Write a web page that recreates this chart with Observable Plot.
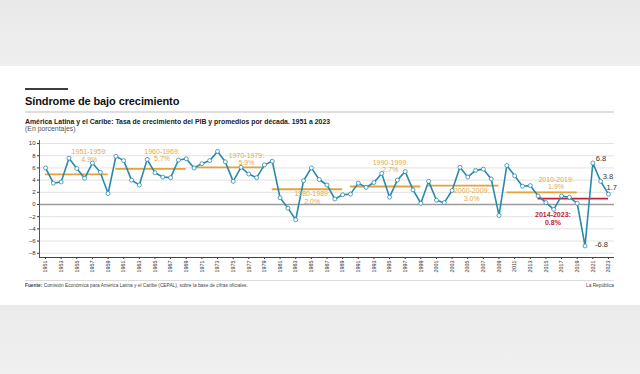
<!DOCTYPE html>
<html>
<head>
<meta charset="utf-8">
<script src="https://cdn.jsdelivr.net/npm/d3@7"></script>
<script src="https://cdn.jsdelivr.net/npm/@observablehq/plot@0.6"></script>
<style>
  html, body { margin: 0; padding: 0; }
  body { width: 640px; height: 374px; position: relative; overflow: hidden;
         background: linear-gradient(180deg, #e9e9e9 0px, #efefef 66px, #ffffff 66px, #ffffff 305px, #ebebeb 305px, #f0f0f0 374px);
         font-family: "Liberation Sans", Arial, sans-serif; }
  .abs { position: absolute; white-space: nowrap; line-height: 1; }
  #bar { left: 25px; top: 87.5px; width: 43px; height: 2.5px; background: #3d3d3d; }
  #title { left: 25px; top: 96.4px; font-size: 11px; font-weight: bold; color: #111; letter-spacing: -0.1px; }
  #rule1 { left: 25px; top: 111px; width: 589px; height: 1.5px; background: #dedede; }
  #subtitle { left: 25px; top: 118.8px; font-size: 6.9px; font-weight: bold; color: #222; }
  #units { left: 25px; top: 125.9px; font-size: 6.9px; color: #555; }
  #rule2 { left: 25px; top: 280px; width: 589px; height: 1px; background: #dcdcdc; }
  #source { left: 25px; top: 283.6px; font-size: 4.8px; color: #444; }
  #brand { right: 26px; top: 283.6px; font-size: 4.8px; color: #444; }
  #chart { position: absolute; left: 0; top: 134px; }
</style>
</head>
<body>
<div class="abs" id="bar"></div>
<div class="abs" id="title">Síndrome de bajo crecimiento</div>
<div class="abs" id="rule1"></div>
<div class="abs" id="subtitle">América Latina y el Caribe: Tasa de crecimiento del PIB y promedios por década. 1951 a 2023</div>
<div class="abs" id="units">(En porcentajes)</div>
<div id="chart"></div>
<div class="abs" id="rule2"></div>
<div class="abs" id="source"><b>Fuente:</b> Comisión Económica para América Latina y el Caribe (CEPAL), sobre la base de cifras oficiales.</div>
<div class="abs" id="brand">La República</div>
<script>
// ---- Data ----
const years = [1951,1952,1953,1954,1955,1956,1957,1958,1959,
  1960,1961,1962,1963,1964,1965,1966,1967,1968,1969,
  1970,1971,1972,1973,1974,1975,1976,1977,1978,1979,
  1980,1981,1982,1983,1984,1985,1986,1987,1988,1989,
  1990,1991,1992,1993,1994,1995,1996,1997,1998,1999,
  2000,2001,2002,2003,2004,2005,2006,2007,2008,2009,
  2010,2011,2012,2013,2014,2015,2016,2017,2018,2019,
  2020,2021,2022,2023];
const growth = [6.0,3.5,3.7,7.6,5.9,4.3,6.8,5.3,1.8,
  7.9,7.2,4.0,3.2,7.4,5.2,4.5,4.4,7.3,7.5,
  6.0,6.7,7.2,8.7,7.0,3.8,6.1,5.0,4.4,6.5,
  7.1,1.1,-0.6,-2.5,3.9,6.0,4.1,3.2,0.9,1.6,
  1.7,3.5,2.8,3.6,5.1,1.2,4.0,5.4,2.4,0.2,
  3.8,0.7,0.3,2.3,6.1,4.5,5.6,5.8,4.2,-1.8,
  6.4,4.7,3.0,3.1,1.4,0.3,-0.8,1.4,1.2,0.2,
  -6.8,6.8,3.8,1.7];

const periodNames = ["1951-1959:","1960-1969:","1970-1979:","1980-1989:","1990-1999:","2000-2009:","2010-2019:","2014-2023:"];
const periodStart = [1951,1960,1970,1980,1990,2000,2010,2014];
const periodEnd   = [1959,1969,1979,1989,1999,2009,2019,2023];
const periodAvg   = [4.9,5.7,5.9,2.0,2.7,3.0,1.9,0.8];     // value printed in label
const periodLevel = [4.95,5.85,6.1,2.5,2.95,3.1,2.0,0.95]; // level of the drawn line

const yTicks = [-8,-6,-4,-2,0,2,4,6,8,10];
const xTicks = [1951,1953,1955,1957,1959,1961,1963,1965,1967,1969,1971,1973,1975,1977,1979,
  1981,1983,1985,1987,1989,1991,1993,1995,1997,1999,2001,2003,2005,2007,2009,
  2011,2013,2015,2017,2019,2021,2023];

const calloutYears = [2021,2022,2023,2020];

// ---- Build tables ----
const series = years.map((y, i) => ({year: y, value: growth[i]}));
const periods = periodNames.map((n, i) => ({
  name: n, start: periodStart[i], end: periodEnd[i], avg: periodAvg[i], level: periodLevel[i],
  recent: i === periodNames.length - 1
}));
// label anchor placement (layout)
const labelPos = [[1956.6,8.05],[1965.9,8.1],[1976.7,7.46],[1985.1,1.1],[1995.1,6.3],[2005.5,1.67],[2016.3,3.5],[2015.9,-2.26]];
const labels = periods.map((p, i) => ({...p, lx: labelPos[i][0], ly: labelPos[i][1],
  text: p.name + "\n" + p.avg.toFixed(1) + "%"}));
const callouts = series.filter(d => calloutYears.includes(d.year));
const calloutOffsets = {2021: [3, -4], 2022: [2, -5], 2023: [-2, -7], 2020: [10, -1]};

const blue = "#2a89ab";
const orange = "#e2a23c";
const orangeText = "#e3a94c";
const red = "#c42236";

const chart = Plot.plot({
  width: 640, height: 143,
  marginLeft: 39, marginRight: 26, marginTop: 6, marginBottom: 20,
  x: {domain: [1950.23, 2023.77]},
  y: {domain: [-8.7, 10.5]},
  style: {fontFamily: "Liberation Sans, Arial, sans-serif", background: "transparent", overflow: "visible"},
  marks: [
    Plot.gridY(yTicks, {stroke: "#e2e2e2", strokeOpacity: 1, strokeWidth: 1}),
    Plot.ruleY([0], {stroke: "#9b9b9b", strokeWidth: 1.5}),
    Plot.axisY(yTicks, {tickSize: 2, tickPadding: 2, fontSize: 6, color: "#333", label: null}),
    Plot.axisX(xTicks, {tickRotate: -90, tickSize: 2, tickPadding: 1, fontSize: 5.4, color: "#333", label: null, tickFormat: d => String(d)}),
    Plot.ruleX([1950.23], {stroke: "#555", strokeWidth: 1}),
    Plot.ruleY([-8.7], {stroke: "#444", strokeWidth: 1}),
    Plot.ruleY(periods, {y: "level", x1: "start", x2: "end", stroke: d => d.recent ? red : orange, strokeWidth: 1.8}),
    Plot.line(series, {x: "year", y: "value", stroke: blue, strokeWidth: 1.6}),
    Plot.dot(series, {x: "year", y: "value", r: 2, fill: "white", stroke: blue, strokeWidth: 0.8}),
    Plot.text(labels.filter(d => !d.recent), {x: "lx", y: "ly", text: "text", fill: orangeText, fontSize: 7, lineHeight: 1.1}),
    Plot.text(labels.filter(d => d.recent), {x: "lx", y: "ly", text: "text", fill: red, fontSize: 7, fontWeight: "bold", lineHeight: 1.1}),
    ...callouts.map(d => Plot.text([d], {x: "year", y: "value", text: v => v.value.toFixed(1),
      textAnchor: "start", dx: calloutOffsets[d.year][0], dy: calloutOffsets[d.year][1], fontSize: 7.5, fill: "#333"}))
  ]
});
document.getElementById("chart").appendChild(chart);
</script>
</body>
</html>
